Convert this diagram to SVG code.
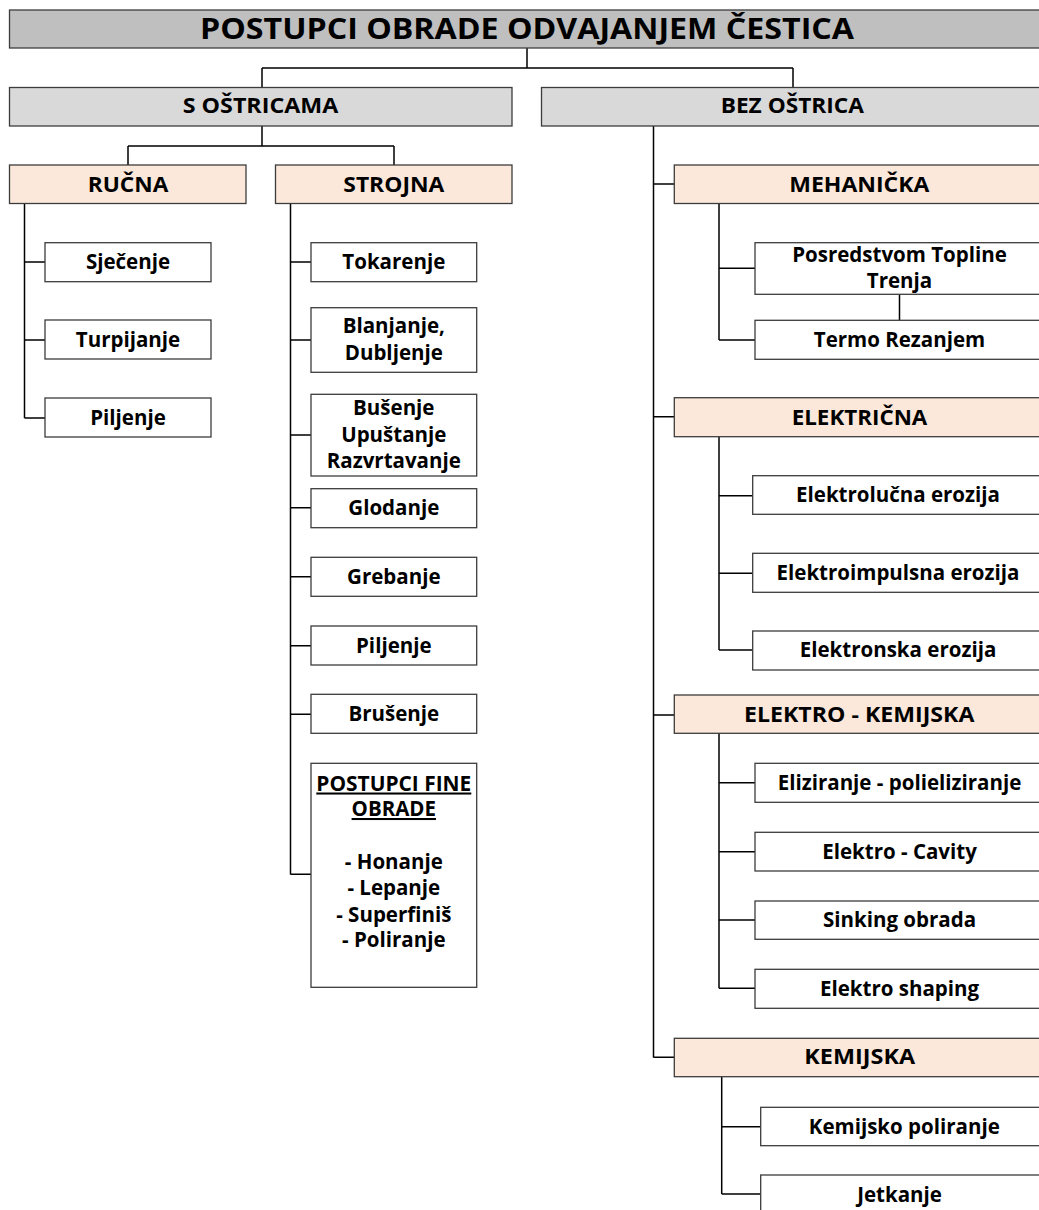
<svg xmlns="http://www.w3.org/2000/svg" width="1039" height="1210" viewBox="0 0 1039 1210">
<style>
  .box { stroke: #3c3c3c; stroke-width: 1.3; }
  .title { fill: #bfbfbf; }
  .grey { fill: #d9d9d9; }
  .peach { fill: #fce8da; }
  .white { fill: #ffffff; }
  text { font-family: "Open Sans", "Liberation Sans", sans-serif; font-weight: 700; font-size: 20.5px; fill: #000; text-anchor: middle; }
  .t { font-size: 29px; }
  .ul { text-decoration: underline; }
  .conn { fill: none; stroke: #000; stroke-width: 1.5; }
</style>
<rect width="1039" height="1210" fill="#ffffff"/>

<g id="connectors" class="conn">
  <path d="M527,48 V68 M262,68 H793 M262,68 V88 M793,68 V88"/>
  <path d="M262,126 V146 M128,146 H394 M128,146 V165 M394,146 V165"/>
  <path d="M24.5,204 V418 M24.5,262 H45 M24.5,340 H45 M24.5,418 H45"/>
  <path d="M290.5,204 V874.5 M290.5,262 H311 M290.5,340 H311 M290.5,435 H311 M290.5,507.7 H311 M290.5,576.7 H311 M290.5,645.7 H311 M290.5,714.3 H311 M290.5,874.3 H311"/>
  <path d="M653.5,126 V1057.5 M653.5,184 H674 M653.5,416.7 H674 M653.5,715 H674 M653.5,1057.3 H674"/>
  <path d="M719,203.5 V340 M719,268.3 H755 M719,340 H755 M899.5,294.3 V320.3"/>
  <path d="M719,436.7 V650 M719,495.7 H752.7 M719,573.3 H752.7 M719,650 H752.7"/>
  <path d="M719,733.3 V988.3 M719,782.7 H755 M719,851.7 H755 M719,920 H755 M719,988.3 H755"/>
  <path d="M721.7,1076.7 V1194 M721.7,1126.7 H760.7 M721.7,1194 H760.7"/>
</g>

<g id="n-title">
  <rect class="box title" x="9.5" y="10" width="1040" height="38"/>
  <text class="t" x="527" y="39.3" textLength="654" lengthAdjust="spacingAndGlyphs">POSTUPCI OBRADE ODVAJANJEM ČESTICA</text>
</g>
<g id="n-s-ostricama">
  <rect class="box grey" x="9.5" y="87.5" width="502.5" height="38.5"/>
  <text x="260.5" y="113.3" textLength="155.6" lengthAdjust="spacingAndGlyphs">S OŠTRICAMA</text>
</g>
<g id="n-bez-ostrica">
  <rect class="box grey" x="541.5" y="87.5" width="510" height="38.5"/>
  <text x="792.3" y="113.3" textLength="143.3" lengthAdjust="spacingAndGlyphs">BEZ OŠTRICA</text>
</g>

<g id="n-rucna">
  <rect class="box peach" x="9.5" y="165" width="236.5" height="38.5"/>
  <text x="128" y="192" textLength="80.6" lengthAdjust="spacingAndGlyphs">RUČNA</text>
</g>
<g id="n-strojna">
  <rect class="box peach" x="275.5" y="165" width="236.5" height="38.5"/>
  <text x="393.8" y="192" textLength="101" lengthAdjust="spacingAndGlyphs">STROJNA</text>
</g>

<g id="n-sjecenje">
  <rect class="box white" x="45" y="242.7" width="166" height="39"/>
  <text x="128" y="269.3">Sječenje</text>
</g>
<g id="n-turpijanje">
  <rect class="box white" x="45" y="320" width="166" height="39"/>
  <text x="128" y="346.6">Turpijanje</text>
</g>
<g id="n-piljenje-r">
  <rect class="box white" x="45" y="398" width="166" height="39"/>
  <text x="128" y="424.6">Piljenje</text>
</g>

<g id="n-tokarenje">
  <rect class="box white" x="311" y="242.7" width="165.7" height="39"/>
  <text x="393.8" y="269.3">Tokarenje</text>
</g>
<g id="n-blanjanje">
  <rect class="box white" x="311" y="307.7" width="165.7" height="64.6"/>
  <text x="393.8" y="333.3">Blanjanje,</text>
  <text x="393.8" y="360">Dubljenje</text>
</g>
<g id="n-busenje">
  <rect class="box white" x="311" y="394.3" width="165.7" height="81.7"/>
  <text x="393.8" y="415">Bušenje</text>
  <text x="393.8" y="442">Upuštanje</text>
  <text x="393.8" y="468.3">Razvrtavanje</text>
</g>
<g id="n-glodanje">
  <rect class="box white" x="311" y="488.7" width="165.7" height="39"/>
  <text x="393.8" y="515.3">Glodanje</text>
</g>
<g id="n-grebanje">
  <rect class="box white" x="311" y="557.3" width="165.7" height="39"/>
  <text x="393.8" y="583.9">Grebanje</text>
</g>
<g id="n-piljenje-s">
  <rect class="box white" x="311" y="626" width="165.7" height="39"/>
  <text x="393.8" y="652.6">Piljenje</text>
</g>
<g id="n-brusenje">
  <rect class="box white" x="311" y="694.3" width="165.7" height="39"/>
  <text x="393.8" y="720.9">Brušenje</text>
</g>
<g id="n-fina">
  <rect class="box white" x="311" y="763.3" width="165.7" height="224"/>
  <text class="ul" x="393.8" y="790.5" textLength="155" lengthAdjust="spacingAndGlyphs">POSTUPCI FINE</text>
  <text class="ul" x="393.8" y="816">OBRADE</text>
  <text x="393.8" y="869">- Honanje</text>
  <text x="393.8" y="895">- Lepanje</text>
  <text x="393.8" y="921.7">- Superfiniš</text>
  <text x="393.8" y="947.3">- Poliranje</text>
</g>

<g id="n-mehanicka">
  <rect class="box peach" x="674.3" y="165" width="380" height="38.5"/>
  <text x="859.3" y="192.3" textLength="140" lengthAdjust="spacingAndGlyphs">MEHANIČKA</text>
</g>
<g id="n-posredstvom">
  <rect class="box white" x="755" y="242.7" width="300" height="51.6"/>
  <text x="899.5" y="261.7">Posredstvom Topline</text>
  <text x="899.5" y="288.3">Trenja</text>
</g>
<g id="n-termo">
  <rect class="box white" x="755" y="320.3" width="300" height="39"/>
  <text x="899.5" y="346.9">Termo Rezanjem</text>
</g>

<g id="n-elektricna">
  <rect class="box peach" x="674.3" y="397.7" width="380" height="39"/>
  <text x="859.5" y="425" textLength="135.6" lengthAdjust="spacingAndGlyphs">ELEKTRIČNA</text>
</g>
<g id="n-elektrolucna">
  <rect class="box white" x="752.7" y="475.7" width="300" height="38.6"/>
  <text x="898" y="501.9">Elektrolučna erozija</text>
</g>
<g id="n-elektroimpulsna">
  <rect class="box white" x="752.7" y="553.3" width="300" height="39"/>
  <text x="898" y="579.7">Elektroimpulsna erozija</text>
</g>
<g id="n-elektronska">
  <rect class="box white" x="752.7" y="631" width="300" height="39"/>
  <text x="898" y="657.4">Elektronska erozija</text>
</g>

<g id="n-elektro-kemijska">
  <rect class="box peach" x="674.3" y="695" width="380" height="38.3"/>
  <text x="859.2" y="721.7" textLength="230.3" lengthAdjust="spacingAndGlyphs">ELEKTRO - KEMIJSKA</text>
</g>
<g id="n-eliziranje">
  <rect class="box white" x="755" y="763.3" width="300" height="39"/>
  <text x="899.5" y="789.7">Eliziranje - polieliziranje</text>
</g>
<g id="n-cavity">
  <rect class="box white" x="755" y="832.3" width="300" height="38.7"/>
  <text x="899.5" y="858.7">Elektro - Cavity</text>
</g>
<g id="n-sinking">
  <rect class="box white" x="755" y="901" width="300" height="38.3"/>
  <text x="899.5" y="927.2">Sinking obrada</text>
</g>
<g id="n-shaping">
  <rect class="box white" x="755" y="969.3" width="300" height="39"/>
  <text x="899.5" y="995.7">Elektro shaping</text>
</g>

<g id="n-kemijska">
  <rect class="box peach" x="674.3" y="1038.3" width="380" height="38.4"/>
  <text x="859.7" y="1064.3" textLength="110.7" lengthAdjust="spacingAndGlyphs">KEMIJSKA</text>
</g>
<g id="n-kemijsko-poliranje">
  <rect class="box white" x="760.7" y="1107.3" width="300" height="38.4"/>
  <text x="904.3" y="1133.5">Kemijsko poliranje</text>
</g>
<g id="n-jetkanje">
  <rect class="box white" x="760.7" y="1175" width="300" height="60"/>
  <text x="899.5" y="1201.5">Jetkanje</text>
</g>
</svg>
